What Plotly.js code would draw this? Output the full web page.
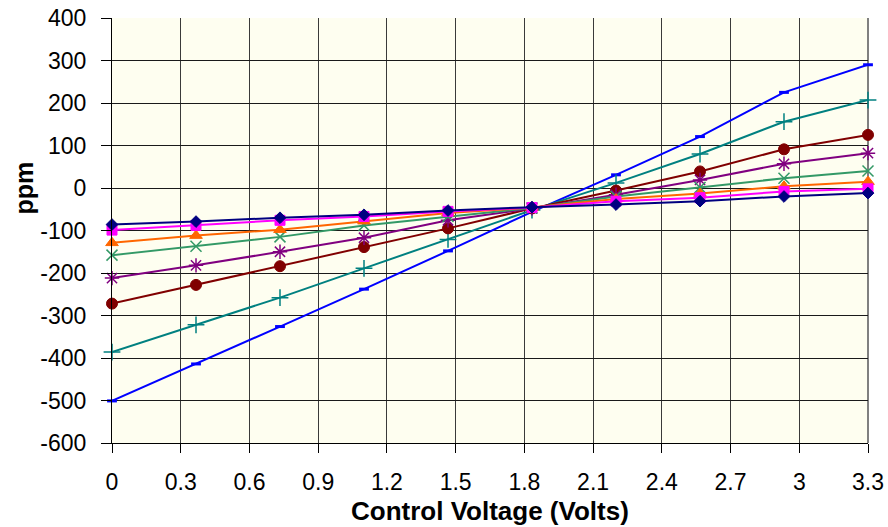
<!DOCTYPE html>
<html>
<head>
<meta charset="utf-8">
<script src="https://cdn.plot.ly/plotly-3.0.1.min.js"></script>
<style>html,body{margin:0;padding:0;background:#fff;}#chart{width:888px;height:527px;}</style>
</head>
<body>
<div id="chart"></div>
<script>
const voltage = [0, 0.3667, 0.7333, 1.1, 1.4667, 1.8333, 2.2, 2.5667, 2.9333, 3.3];

const sNavy    = [-86, -79, -70, -63, -53, -45, -39, -31, -20, -12];
const sMagenta = [-99, -88, -76, -67, -55, -46, -31, -23, -8, -2];
const sOrange  = [-129, -112, -98, -78, -59, -46, -26, -13, 4, 15];
const sSea     = [-158, -137, -115, -88, -67, -47, -20, 1, 23, 40];
const sPurple  = [-212, -182, -150, -117, -76, -48, -16, 19, 57, 82];
const sMaroon  = [-272, -228, -184, -139, -95, -48, -6, 39, 91, 125];
const sTeal    = [-386, -322, -258, -189, -121, -52, 12, 80, 156, 207];
const sBlue    = [-501, -414, -326, -238, -148, -56, 31, 121, 225, 290];

const xTicks = [0, 0.3, 0.6, 0.9, 1.2, 1.5, 1.8, 2.1, 2.4, 2.7, 3, 3.3];
const xTickText = ['0', '0.3', '0.6', '0.9', '1.2', '1.5', '1.8', '2.1', '2.4', '2.7', '3', '3.3'];
const yTicks = [-600, -500, -400, -300, -200, -100, 0, 100, 200, 300, 400];
const yTickText = ['-600', '-500', '-400', '-300', '-200', '-100', '0', '100', '200', '300', '400'];
const xTitle = 'Control Voltage (Volts)';
const yTitle = 'ppm';

function tr(y, color, symbol, size, extra) {
  const m = {symbol: symbol, size: size, color: color, line: {color: color, width: 1}};
  if (extra) Object.assign(m, extra);
  return {x: voltage, y: y, mode: 'lines+markers', type: 'scatter',
          line: {color: color, width: 2}, marker: m, showlegend: false, cliponaxis: false};
}

const data = [
  tr(sBlue, '#0000FF', 'line-ew', 7, {line: {color: '#0000FF', width: 3}}),
  tr(sTeal, '#008080', 'cross-thin', 12, {line: {color: '#008080', width: 1.5}}),
  tr(sMaroon, '#800000', 'circle', 11),
  tr(sPurple, '#800080', 'asterisk', 12, {line: {color: '#800080', width: 1.5}}),
  tr(sSea, '#339966', 'x-thin', 11, {line: {color: '#339966', width: 1.5}}),
  tr(sOrange, '#FF6600', 'triangle-up', 11),
  tr(sMagenta, '#FF00FF', 'square', 10),
  tr(sNavy, '#000080', 'diamond', 9)
];

const FONT = 'Liberation Sans, Arial, sans-serif';

const layout = {
  width: 888, height: 527,
  margin: {l: 112, r: 20, t: 18, b: 84},
  paper_bgcolor: '#ffffff',
  plot_bgcolor: '#FEFEF0',
  font: {family: FONT, color: '#000', size: 23},
  xaxis: {
    range: [0, 3.3], tickmode: 'array', tickvals: xTicks, ticktext: xTickText,
    tickfont: {family: FONT, size: 23, color: '#000'},
    showgrid: true, gridcolor: '#3a3a3a', gridwidth: 1,
    showline: true, linecolor: '#000', linewidth: 1, mirror: false,
    ticks: 'outside', ticklen: 9, tickcolor: '#000',
    ticklabelstandoff: 9,
    zeroline: false
  },
  yaxis: {
    range: [-600, 400], tickmode: 'array', tickvals: yTicks, ticktext: yTickText,
    tickfont: {family: FONT, size: 23, color: '#000'},
    showgrid: true, gridcolor: '#1a1a1a', gridwidth: 1,
    showline: true, linecolor: '#000', linewidth: 1,
    ticks: 'outside', ticklen: 10, tickcolor: '#000',
    ticklabelstandoff: 10,
    zeroline: false
  },
  annotations: [
    {text: xTitle, xref: 'paper', yref: 'paper', x: 0.5, y: -0.16, xanchor: 'center', yanchor: 'middle',
     showarrow: false, font: {size: 26, family: FONT, weight: 'bold'}},
    {text: yTitle, xref: 'paper', yref: 'paper', x: -0.117, y: 0.6, xanchor: 'center', yanchor: 'middle',
     textangle: -90, showarrow: false, font: {size: 25, family: FONT, weight: 'bold'}}
  ],
  shapes: [
    {type: 'line', xref: 'paper', yref: 'paper', x0: 1, x1: 1, y0: 0, y1: 1,
     line: {color: '#808080', width: 2}, layer: 'below'}
  ]
};

Plotly.newPlot('chart', data, layout, {displayModeBar: false, staticPlot: true});
</script>
</body>
</html>
